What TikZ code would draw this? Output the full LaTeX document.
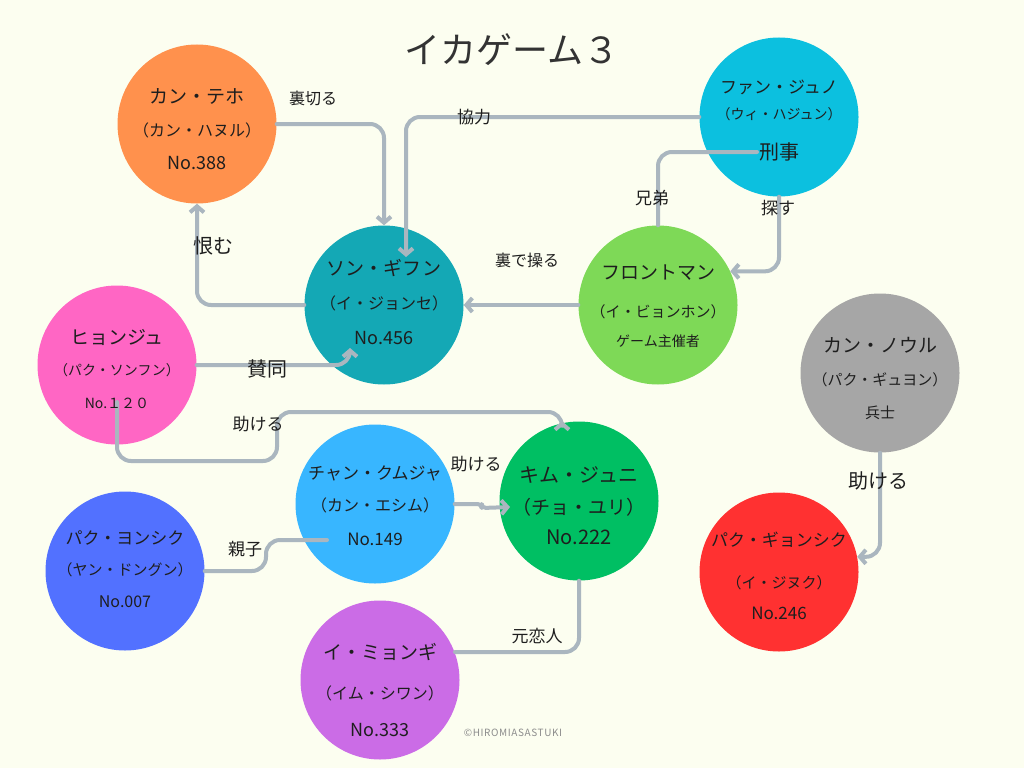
\documentclass[tikz,border=0pt]{standalone}
\usepackage{fontspec}
\setmainfont{Noto Sans CJK JP}
\usetikzlibrary{arrows.meta}
\definecolor{bgc}{HTML}{FCFEF0}
\definecolor{ink}{HTML}{1E1E1E}
\definecolor{linec}{HTML}{AAB6BF}
\definecolor{corange}{HTML}{FF914D}
\definecolor{cteal}{HTML}{14A8B5}
\definecolor{ccyan}{HTML}{0CC0DF}
\definecolor{cgreen}{HTML}{7ED957}
\definecolor{cgray}{HTML}{A6A6A6}
\definecolor{cred}{HTML}{FF3131}
\definecolor{cpink}{HTML}{FF66C4}
\definecolor{cblue}{HTML}{5271FF}
\definecolor{clblue}{HTML}{38B6FF}
\definecolor{cgreenb}{HTML}{00BF63}
\definecolor{cpurple}{HTML}{CB6CE6}
\newcommand{\fs}[1]{\fontsize{#1}{#1}\selectfont}
\begin{document}
\begin{tikzpicture}[x=1pt,y=-1pt,
  person/.style={circle, minimum size=159pt, inner sep=0pt, draw=none},
  txt/.style={text=ink, inner sep=0pt, anchor=center},
  conn/.style={draw=linec, line width=4pt, rounded corners=14pt, line cap=round, line join=round},
  arr/.style={-{Straight Barb[length=6pt,width=14pt]}}
]
\fill[bgc] (0,0) rectangle (1024,768);
\useasboundingbox (0,0) rectangle (1024,768);

% title
\node[txt, text=black!80] (title) at (512,50) {\fs{36}イカゲーム３};

% circles
\node[person, fill=corange] (teho) at (197,124) {};
\node[person, fill=cteal] (gihun) at (384,305) {};
\node[person, fill=ccyan] (junho) at (779,117) {};
\node[person, fill=cgreen] (front) at (658,305) {};
\node[person, fill=cgray] (noul) at (880,373) {};
\node[person, fill=cred] (gyon) at (779,572) {};
\node[person, fill=cpink] (hyon) at (117,365) {};
\node[person, fill=cblue] (yon) at (125,571) {};
\node[person, fill=clblue] (kum) at (375,504) {};
\node[person, fill=cgreenb] (juni) at (579,501) {};
\node[person, fill=cpurple] (myo) at (380,680) {};

% free ends
\coordinate (kyoEnd) at (406,257);
\coordinate (keijiL) at (757,152);
\coordinate (sandoEnd) at (350,348);
\coordinate (tasStart) at (117,402);
\coordinate (tasEnd) at (562,421);
\coordinate (oyakoEnd) at (327,540);
\coordinate (motoEnd) at (455,652);
\coordinate (chanEnd) at (510,507);

% connectors
\draw[conn, arr] (teho.east) -| (gihun.north);
\draw[conn, arr] (junho.west) -| (kyoEnd);
\draw[conn, arr] (gihun.west) -| (teho.south);
\draw[conn, arr] (front.west) -- (gihun.east);
\draw[conn] (keijiL) -| (front.north);
\draw[conn, arr] (junho.south) |- (front.25);
\draw[conn, arr] (hyon.east) -| (sandoEnd);
\draw[conn, arr] (tasStart) -- ++(0,59) -- ++(160,0) -- ++(0,-49) -| (tasEnd);
\draw[conn, arr, rounded corners=4pt] (kum.east) -- ++(27,0) -- ++(0,4) -- (chanEnd);
\draw[conn] (yon.east) -| ([xshift=-61pt]oyakoEnd) -- (oyakoEnd);
\draw[conn] (juni.south) |- (motoEnd);
\draw[conn, arr] (noul.south) |- (gyon.11);

% node texts
\node[txt] (tehoA) at (197,96) {\fs{19}カン・テホ};
\node[txt] (tehoB) at (197,130) {\fs{16}（カン・ハヌル）};
\node[txt] (tehoC) at (197,163) {\fs{18}No.388};

\node[txt] (gihunA) at (384,268) {\fs{19}ソン・ギフン};
\node[txt] (gihunB) at (384,303) {\fs{16}（イ・ジョンセ）};
\node[txt] (gihunC) at (384,338) {\fs{18}No.456};

\node[txt] (junhoA) at (779,87) {\fs{17}ファン・ジュノ};
\node[txt] (junhoB) at (779,114) {\fs{14}（ウィ・ハジュン）};
\node[txt] (keiji) at (779,152) {\fs{20}刑事};

\node[txt] (frontA) at (658,273) {\fs{19}フロントマン};
\node[txt] (frontB) at (658,312) {\fs{15}（イ・ビョンホン）};
\node[txt] (frontC) at (658,341) {\fs{14}ゲーム主催者};

\node[txt] (noulA) at (880,345) {\fs{19}カン・ノウル};
\node[txt] (noulB) at (880,380) {\fs{15}（パク・ギュヨン）};
\node[txt] (noulC) at (880,413) {\fs{15}兵士};

\node[txt] (gyonA) at (779,540) {\fs{17}パク・ギョンシク};
\node[txt] (gyonB) at (779,583) {\fs{15}（イ・ジヌク）};
\node[txt] (gyonC) at (779,613) {\fs{17}No.246};

\node[txt] (hyonA) at (117,337) {\fs{19}ヒョンジュ};
\node[txt] (hyonB) at (117,370) {\fs{14}（パク・ソンフン）};
\node[txt] (hyonC) at (117,403) {\fs{14}No.１２０};

\node[txt] (kumA) at (375,473) {\fs{17}チャン・クムジャ};
\node[txt] (kumB) at (375,505) {\fs{16}（カン・エシム）};
\node[txt] (kumC) at (375,539) {\fs{17}No.149};

\node[txt] (juniA) at (579,475) {\fs{20}キム・ジュニ};
\node[txt] (juniB) at (579,507) {\fs{19}（チョ・ユリ）};
\node[txt] (juniC) at (579,537) {\fs{20}No.222};

\node[txt] (yonA) at (125,538) {\fs{17}パク・ヨンシク};
\node[txt] (yonB) at (125,570) {\fs{15}（ヤン・ドングン）};
\node[txt] (yonC) at (125,602) {\fs{16}No.007};

\node[txt] (myoA) at (380,652) {\fs{19}イ・ミョンギ};
\node[txt] (myoB) at (380,693) {\fs{16}（イム・シワン）};
\node[txt] (myoC) at (380,730) {\fs{18}No.333};

% connector labels
\node[txt] (lUragiru) at (313,98) {\fs{16}裏切る};
\node[txt] (lKyoryoku) at (474,117) {\fs{17}協力};
\node[txt] (lUramu) at (213,246) {\fs{20}恨む};
\node[txt] (lUra) at (527,260) {\fs{16}裏で操る};
\node[txt] (lKyodai) at (652,198) {\fs{17}兄弟};
\node[txt] (lSagasu) at (778,208) {\fs{17}探す};
\node[txt] (lSando) at (267,369) {\fs{20}賛同};
\node[txt] (lTas1) at (258,424) {\fs{17}助ける};
\node[txt] (lTas2) at (476,464) {\fs{17}助ける};
\node[txt] (lOyako) at (245,549) {\fs{17}親子};
\node[txt] (lMoto) at (537,636) {\fs{17}元恋人};
\node[txt] (lTas3) at (878,481) {\fs{20}助ける};

\node[txt, text=black!45] (copy) at (513,733) {\fs{10}\addfontfeature{LetterSpace=6}©HIROMIASASTUKI};
\end{tikzpicture}
\end{document}
